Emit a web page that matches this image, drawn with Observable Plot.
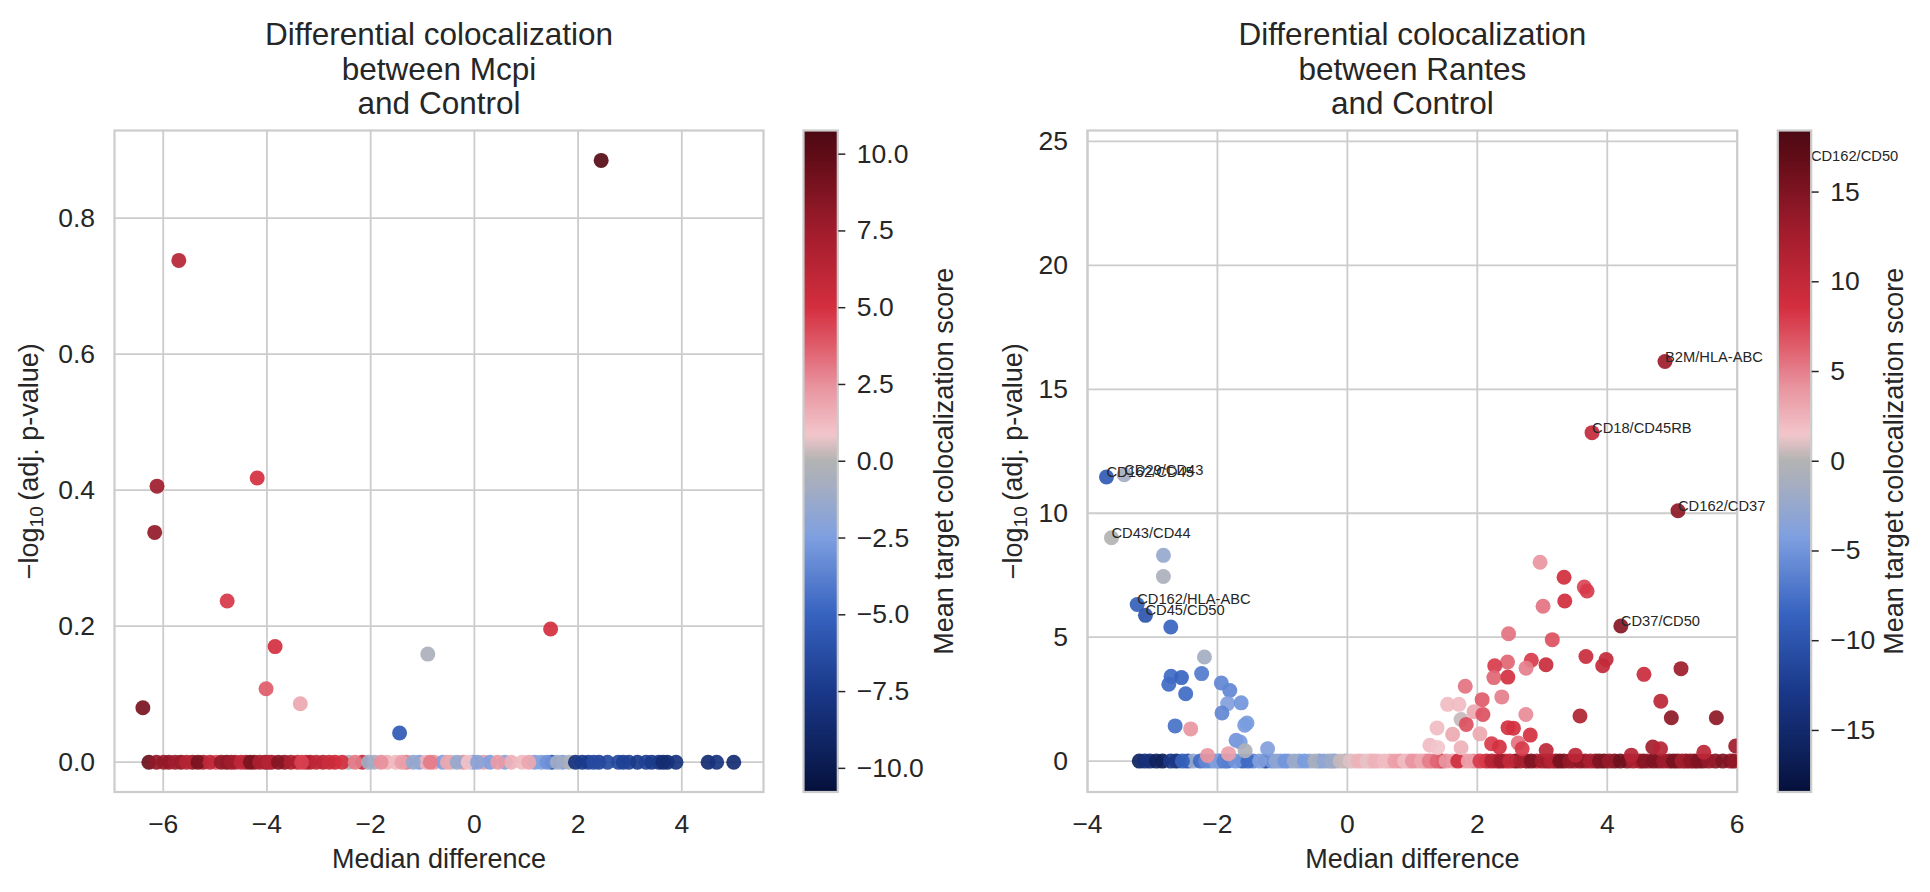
<!DOCTYPE html>
<html><head><meta charset="utf-8">
<script src="https://cdn.jsdelivr.net/npm/d3@7"></script>
<script src="https://cdn.jsdelivr.net/npm/@observablehq/plot@0.6"></script>
<style>
html,body{margin:0;padding:0;background:#fff;}
#fig{position:relative;width:1930px;height:892px;overflow:hidden;background:#fff;}
#fig > svg{position:absolute;top:0;}
</style></head><body><div id="fig"></div>
<script>
// ---------------- DATA ----------------
// Left panel: Mcpi vs Control
const mcpiX = [
  -6.277,-5.989,-5.890,-5.659,-5.436,-5.230,-4.983,-4.776,-4.611,-4.404,-4.240,-4.034,-3.909,-3.662,-3.415,-3.249,-3.167,-2.919,-2.688,-2.424,
  -2.160,-1.929,-1.682,-1.517,-1.311,-1.063,-0.939,-0.774,-0.609,-0.444,-0.213,-0.031,0.175,0.299,0.588,0.711,0.918,1.165,1.288,1.494,
  1.701,1.825,1.949,2.196,2.402,2.568,2.774,2.980,3.145,3.311,3.558,3.723,3.888,4.507,4.672,5.002,
  -6.13,-5.77,-5.55,-5.33,-5.10,-4.88,-4.69,-4.50,-4.32,-4.14,-3.97,-3.78,-3.54,-3.33,-3.05,-2.80,-2.55,-2.30,-2.04,-1.80,
  -1.40,-1.18,-0.85,-0.52,-0.33,-0.12,0.06,0.45,1.05,1.40,1.60,2.08,2.30,2.87,3.42,3.64,
  2.445,-5.70,-6.12,-6.165,-4.188,-4.767,1.47,-3.843,-0.898,-4.017,-3.357,-6.393,-1.442
];
const mcpiY = [
  0,0,0,0,0,0,0,0,0,0,0,0,0,0,0,0,0,0,0,0,
  0,0,0,0,0,0,0,0,0,0,0,0,0,0,0,0,0,0,0,0,
  0,0,0,0,0,0,0,0,0,0,0,0,0,0,0,0,
  0,0,0,0,0,0,0,0,0,0,0,0,0,0,0,0,0,0,0,0,
  0,0,0,0,0,0,0,0,0,0,0,0,0,0,0,0,
  0.885,0.738,0.406,0.338,0.418,0.237,0.196,0.170,0.159,0.108,0.086,0.080,0.043
];
const mcpiScore = [
  9.5,7.5,8,8.5,8,7,4,9,6.5,7.5,8,8,7.5,8,5.5,5.5,7,6.5,5.5,-0.3,
  5.5,-0.5,1.5,1.2,3,-2.5,1.5,2,-2.5,0.3,2.5,-2.5,2,-2.5,-2.0,1.5,1.2,-2.5,-2.2,-6,
  -2.5,-0.3,-8,-7,-7,-6.5,-6.5,-7,-7.5,-7,-8,-8.5,-8,-8.5,-8,-8.5,
  8,7.5,6.5,9,6,8,7.5,6,9,7,6.5,8.5,7,4.5,6,5.5,5,3,-1,2.5,
  2,-1.5,3,1.8,-1.5,1,-2,2.2,1.8,-3,-1,-7.5,-6.5,-7,-7.5,-8.5,
  10.3,6.5,7.5,8,5,4.8,5,5,-0.5,3.8,1.8,9,-5.5
];

// Right panel: Rantes vs Control
const rantesX = [
  -3.202,-3.040,-2.846,-2.632,-2.457,-2.374,-2.263,-2.101,-1.972,-1.843,-1.615,-1.454,-1.260,-1.163,-1.034,-0.904,-0.742,-0.580,-0.431,-0.289,
  -0.192,-0.031,0.100,0.229,0.358,0.488,0.650,0.811,0.940,1.070,1.200,1.316,1.446,1.620,1.782,1.945,2.138,2.300,2.429,2.591,
  2.753,2.915,3.077,3.206,3.335,3.497,3.659,3.821,3.951,4.112,4.306,4.500,4.630,4.792,4.954,5.083,5.212,5.342,5.471,5.666,5.892,6.05,
  -3.12,-2.94,-2.72,-2.54,-2.18,-2.03,-1.90,-1.72,-1.53,-1.35,-1.10,-0.96,-0.82,-0.66,-0.50,-0.36,-0.24,-0.11,0.04,0.17,
  0.30,0.42,0.57,0.73,0.88,1.00,1.14,1.26,1.38,1.52,1.70,1.86,2.04,2.22,2.36,2.50,2.67,2.83,3.00,3.14,
  3.27,3.42,3.58,3.74,3.88,4.03,4.20,4.40,4.56,4.71,4.87,5.02,5.15,5.28,5.40,5.56,5.78,5.95,
  -2.831,-2.832,-2.718,-2.200,-2.714,-2.554,-2.243,-2.749,-2.489,-1.940,-1.810,-1.842,-1.635,-1.930,-1.545,-1.580,-2.651,-2.412,-1.713,-1.650,
  -1.228,-1.574,-2.153,-1.830,
  2.966,3.335,3.646,3.689,3.346,3.012,2.481,3.154,3.672,3.983,3.930,2.831,3.057,2.465,2.750,2.268,2.255,2.470,4.565,5.135,
  1.814,2.074,2.377,1.543,1.717,4.824,1.950,2.086,3.580,4.986,5.679,2.747,1.750,1.830,2.473,2.556,2.815,1.380,2.040,1.620,
  2.220,1.270,1.390,1.750,2.340,2.630,2.690,3.060,3.510,4.370,4.700,4.820,5.486,5.977
];
const rantesY = [
  0,0,0,0,0,0,0,0,0,0,0,0,0,0,0,0,0,0,0,0,
  0,0,0,0,0,0,0,0,0,0,0,0,0,0,0,0,0,0,0,0,
  0,0,0,0,0,0,0,0,0,0,0,0,0,0,0,0,0,0,0,0,0,0,
  0,0,0,0,0,0,0,0,0,0,0,0,0,0,0,0,0,0,0,0,
  0,0,0,0,0,0,0,0,0,0,0,0,0,0,0,0,0,0,0,0,
  0,0,0,0,0,0,0,0,0,0,0,0,0,0,0,0,0,0,
  8.30,7.45,5.41,4.20,3.42,3.37,3.53,3.10,2.72,3.15,2.85,2.32,2.35,1.94,1.54,1.45,1.42,1.30,0.84,0.77,
  0.50,0.42,0.23,0.30,
  8.02,7.42,7.02,6.86,6.46,6.25,5.14,4.90,4.22,4.10,3.85,4.07,3.89,4.00,3.75,3.85,3.37,3.39,3.50,3.73,
  3.02,2.48,2.59,2.29,2.29,2.42,1.99,1.88,1.82,1.75,1.75,1.88,1.68,1.48,1.35,1.33,1.05,1.34,1.10,1.08,
  0.70,0.64,0.55,0.54,0.57,0.73,0.50,0.43,0.24,0.24,0.57,0.50,0.36,0.61
];
const rantesScore = [
  -16,-15,-17,-15,-10,-2.5,-8,-5,-7,-7.5,-9,-6,-11,-5,-4,-2.5,-4,-1.5,-5,-0.5,
  -4,-0.5,1.5,2,3,1.8,3,4,2.5,3,4.5,4,10,3,2.5,4.5,9.5,10.5,9,16,
  14.5,10.5,14.5,13,14.5,11.5,13,14.5,17,15.5,14.5,13,12,14.5,14,14.5,15.5,14.5,16,14.5,13,14,
  -14,-16,-13,-9,-6,-4,-6.5,-5,-8,-4,-3,-5,-2,-4.5,-1,-3,-2,0.5,1,2.5,
  1.2,2.5,2,3.5,2,4,3,5,6,4,9,3.5,8,11,13,10,12,15,12.5,11,
  15.5,13.5,14,12,15,13.5,16,12,14.5,15,13,15.5,12.5,14,15,13.5,15,14,
  -2.5,-0.8,-8.5,-1.5,-8,-8.5,-7,-8,-8,-6,-6,-4,-5,-6,-4.5,-4.5,-7.5,4,-5,-4.5,
  -4,-0.5,4,3.5,
  4,9,7.5,8,9,5.5,5.5,7,9.5,10,10,8,9.5,6,5,8,6,8.5,9.5,13,
  5.5,6.5,5,2,2,10.5,3,7,11.5,14,14,4.5,0.5,7,8.5,8.5,8.5,2,3,3,
  8,2,1.5,2.5,8.5,5.5,8,10.5,10.5,11,12.5,11,10.5,13
];
// Annotated pairs (right panel)
const labelName  = ["CD162/CD45","CD29/CD43","CD43/CD44","CD162/HLA-ABC","CD45/CD50","B2M/HLA-ABC","CD18/CD45RB","CD162/CD37","CD37/CD50","CD162/CD50"];
const labelX     = [-3.708,-3.435,-3.631,-3.235,-3.108,4.889,3.766,5.089,4.209,7.134];
const labelY     = [11.46,11.55,9.01,6.32,5.88,16.12,13.25,10.10,5.45,24.19];
const labelScore = [-9.5,-1.5,0,-9,-10,13,10,14,14.5,16];

// Axis ticks
const mcpiXTicks = [-6,-4,-2,0,2,4];
const mcpiYTicks = [0,0.2,0.4,0.6,0.8];
const mcpiCbarTicks = [-10,-7.5,-5,-2.5,0,2.5,5,7.5,10];
const rantesXTicks = [-4,-2,0,2,4,6];
const rantesYTicks = [0,5,10,15,20,25];
const rantesCbarTicks = [-15,-10,-5,0,5,10,15];

// Colormap (diverging navy-blue-grey-pink-red-maroon)
const cmapStops  = [0,0.035,0.15,0.268,0.384,0.46,0.5,0.54,0.616,0.67,0.732,0.849,0.965,1];
const cmapColors = ["#05103a","#0b1b4f","#1a3889","#3763c0","#7e9fe0","#a4adc2","#b3b3b3","#f2c6cb","#e8909c","#e0606e","#d42f3f","#a01c2c","#5e0c17","#4c0a13"];
const cmap = d3.scaleLinear().domain(cmapStops).range(cmapColors).interpolate(d3.interpolateRgb).clamp(true);

// ---------------- RENDERING ----------------
const FONT = '"Liberation Sans", Arial, Helvetica, sans-serif';
const INK = "#262626";
const GRID = "#cccccc";
const TOP = 130, BOTTOM = 100.5, H = 892;
const R = 7.5;
const fig = document.getElementById("fig");
const baseStyle = {fontFamily: FONT, color: INK, background: "transparent", overflow: "visible"};
const YLABEL = "\u2212log10(adj. p-value)";
const fmt1 = d3.format(".1f");
const fmt0 = d3.format("d");

function place(svg, left, width) {
  svg.style.left = left + "px";
  svg.style.width = width + "px";
  svg.style.maxWidth = "none";
  fig.appendChild(svg);
  return svg;
}

function subscriptLabel(svg) {
  svg.querySelectorAll("text").forEach(t => {
    if (t.textContent === YLABEL) {
      t.textContent = "";
      const ns = "http://www.w3.org/2000/svg";
      const a = document.createElementNS(ns, "tspan"); a.textContent = "\u2212log";
      const b = document.createElementNS(ns, "tspan"); b.textContent = "10";
      b.setAttribute("font-size", "19"); b.setAttribute("dy", "5");
      const c = document.createElementNS(ns, "tspan"); c.textContent = "\u2009(adj. p-value)";
      c.setAttribute("dy", "-5");
      t.append(a, b, c);
    }
  });
}

function scatter(o) {
  const pts = o.X.map((x, i) => ({x, y: o.Y[i], s: o.S[i]}));
  const marks = [
    Plot.gridX(o.xTicks, {x: d => d, stroke: GRID, strokeOpacity: 1, strokeWidth: 1.8}),
    Plot.gridY(o.yTicks, {y: d => d, stroke: GRID, strokeOpacity: 1, strokeWidth: 1.8}),
    Plot.frame({stroke: GRID, strokeWidth: 2.2}),
    Plot.dot(pts, {x: "x", y: "y", fill: "s", r: R, fillOpacity: 0.92, stroke: "none", clip: true}),
    Plot.axisX({ticks: o.xTicks, tickFormat: o.xFmt, tickSize: 0, tickPadding: 21.7, fontSize: 26.5, label: null}),
    Plot.axisY({ticks: o.yTicks, tickFormat: o.yFmt, tickSize: 0, tickPadding: 19.5, fontSize: 26.5, label: null}),
    Plot.text([o.title], {frameAnchor: "top", dy: -16.2, lineAnchor: "bottom", lineHeight: 1.1, fontSize: 31.5, fill: INK}),
    Plot.text(["Median difference"], {frameAnchor: "bottom", dy: 75.5, lineAnchor: "bottom", fontSize: 27, fill: INK}),
    Plot.text([YLABEL], {frameAnchor: "left", dx: o.yLabelDx, rotate: -90, textAnchor: "middle", lineAnchor: "middle", fontSize: 27, fill: INK})
  ];
  if (o.labels) {
    const lab = o.labels.name.map((n, i) => ({x: o.labels.x[i], y: o.labels.y[i], s: o.labels.s[i], n}));
    marks.push(Plot.dot(lab, {x: "x", y: "y", fill: "s", r: R, fillOpacity: 0.92, stroke: "none", clip: true}));
    marks.push(Plot.text(lab, {x: "x", y: "y", text: "n", textAnchor: "start", lineAnchor: "bottom", fontSize: 14.7, fill: INK}));
  }
  const svg = Plot.plot({
    width: o.width, height: H,
    marginLeft: o.ml, marginRight: o.mr, marginTop: TOP, marginBottom: BOTTOM,
    x: {domain: o.xDomain},
    y: {domain: o.yDomain},
    color: {type: "linear", domain: o.cDomain, interpolate: t => cmap(t)},
    style: baseStyle,
    marks
  });
  subscriptLabel(svg);
  return place(svg, o.left, o.width);
}

function colorbar(o) {
  const [lo, hi] = o.cDomain;
  const step = (hi - lo) / 330;
  const slices = d3.range(lo, hi, step);
  const svg = Plot.plot({
    width: o.width, height: H,
    marginLeft: o.ml, marginRight: o.mr, marginTop: TOP, marginBottom: BOTTOM,
    x: {domain: [0, 1], axis: null},
    y: {domain: o.cDomain, axis: null},
    color: {type: "linear", domain: o.cDomain, interpolate: t => cmap(t)},
    style: baseStyle,
    marks: [
      Plot.rect(slices, {x1: () => 0, x2: () => 1, y1: d => d, y2: d => Math.min(d + step * 1.6, hi), fill: d => d + step / 2, inset: 0}),
      Plot.frame({stroke: GRID, strokeWidth: 2.2}),
      Plot.axisY({anchor: "right", ticks: o.ticks, tickFormat: o.fmt, tickSize: 7, tickPadding: 12, strokeWidth: 1.5, fontSize: 26.5, label: null}),
      Plot.text(["Mean target colocalization score"], {frameAnchor: "right", dx: o.labelDx, rotate: -90, textAnchor: "middle", lineAnchor: "middle", fontSize: 27, fill: INK})
    ]
  });
  return place(svg, o.left, o.width);
}

// Left panel
scatter({
  X: mcpiX, Y: mcpiY, S: mcpiScore,
  xDomain: [-6.94, 5.5755], yDomain: [-0.0438, 0.929], cDomain: [-10.77, 10.77],
  xTicks: mcpiXTicks, yTicks: mcpiYTicks, xFmt: fmt0, yFmt: fmt1,
  left: 0, width: 800, ml: 114, mr: 37,
  title: "Differential colocalization\nbetween Mcpi\nand Control", yLabelDx: -85
});
colorbar({cDomain: [-10.77, 10.77], ticks: mcpiCbarTicks, fmt: fmt1, left: 790, width: 170, ml: 13, mr: 122.7, labelDx: 106.7});

// Right panel
scatter({
  X: rantesX, Y: rantesY, S: rantesScore,
  labels: {name: labelName, x: labelX, y: labelY, s: labelScore},
  xDomain: [-4, 6], yDomain: [-1.246, 25.44], cDomain: [-18.43, 18.43],
  xTicks: rantesXTicks, yTicks: rantesYTicks, xFmt: fmt0, yFmt: fmt0,
  left: 960, width: 970, ml: 127, mr: 193.3,
  title: "Differential colocalization\nbetween Rantes\nand Control", yLabelDx: -74.4
});
colorbar({cDomain: [-18.43, 18.43], ticks: rantesCbarTicks, fmt: fmt0, left: 1760, width: 170, ml: 17.3, mr: 119.3, labelDx: 83});
</script></body></html>
